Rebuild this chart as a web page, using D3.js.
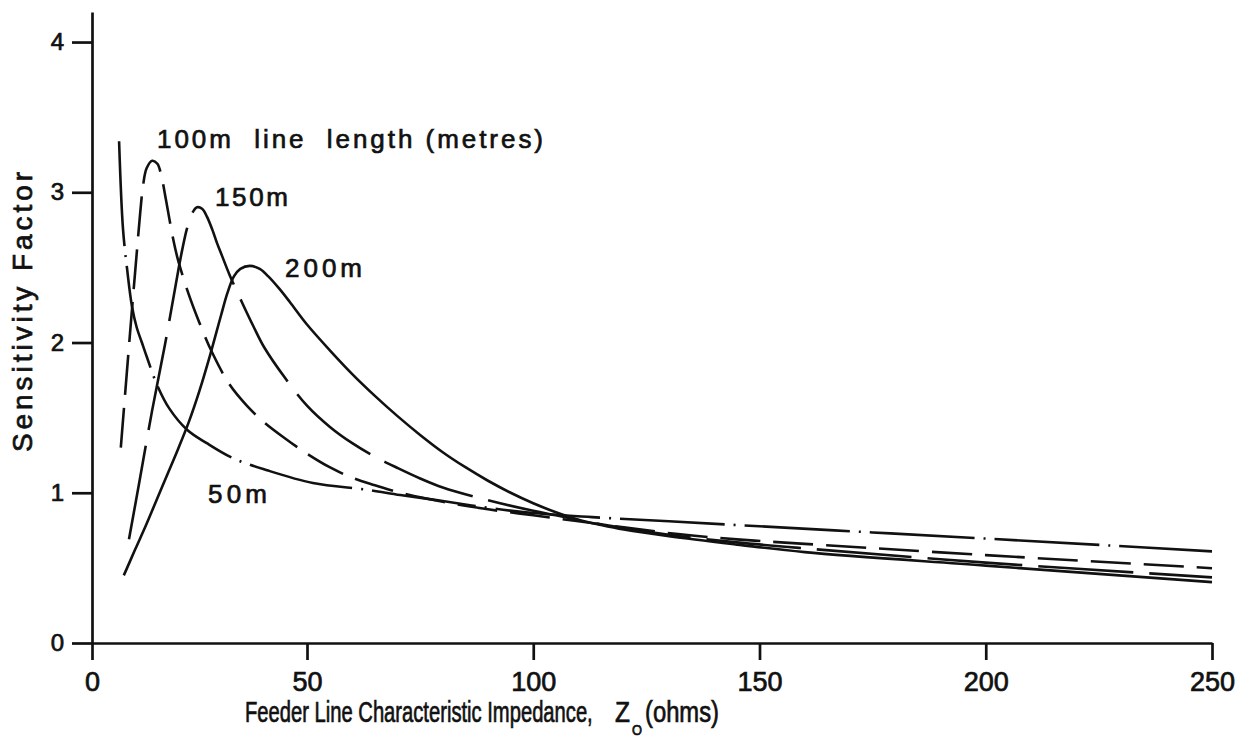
<!DOCTYPE html>
<html>
<head>
<meta charset="utf-8">
<script src="https://cdn.jsdelivr.net/npm/d3@7"></script>
<style>
  html, body { margin: 0; padding: 0; background: #fff; }
  svg { display: block; }
  text { font-family: "Liberation Sans", Arial, Helvetica, sans-serif; fill: #111; stroke: #111; stroke-width: 0.7px; }
</style>
</head>
<body>
<svg id="chart" width="1253" height="738"></svg>
<script>
// Sensitivity factor against feeder characteristic impedance (ohms), one curve per line length.
const xTicks = [0, 50, 100, 150, 200, 250];
const yTicks = [0, 1, 2, 3, 4];

// [impedance, sensitivity factor]
const len50 = [[6.3,3.34],[7.2,2.76],[8.2,2.48],[9.3,2.24],[10.4,2.10],[11.6,2.00],[12.8,1.90],[15.1,1.72],[18,1.56],[22.1,1.42],[26.7,1.33],[32.8,1.23],[40.7,1.15],[51.3,1.065],[63.3,1.02],[70.6,0.985],[80,0.945],[90,0.90],[100,0.865],[113,0.838],[130,0.81],[150,0.777],[175,0.736],[200,0.695],[225,0.653],[250,0.61]];
const len100 = [[6.7,1.30],[8.1,1.80],[9.3,2.22],[10.3,2.56],[11.2,2.86],[11.9,3.05],[12.7,3.16],[14.0,3.21],[15.2,3.19],[16.2,3.10],[17.2,2.95],[18.8,2.70],[20,2.55],[22.5,2.32],[25,2.13],[28,1.93],[32,1.72],[36,1.58],[40,1.47],[45,1.36],[50,1.26],[55,1.17],[60,1.10],[65,1.05],[70,1.005],[80,0.94],[90,0.89],[100,0.85],[110,0.81],[120,0.77],[132,0.725],[145,0.69],[160,0.66],[200,0.585],[250,0.498]];
const len150 = [[8.6,0.69],[11,1.07],[14,1.55],[17,1.99],[20,2.47],[21,2.62],[22.1,2.76],[23.3,2.86],[24.4,2.90],[25.6,2.89],[26.7,2.84],[28,2.75],[29.1,2.66],[30.2,2.58],[32,2.45],[35,2.26],[37.5,2.11],[40,1.97],[45,1.76],[50,1.58],[55,1.44],[60,1.33],[65,1.24],[70,1.165],[75,1.095],[80,1.035],[90,0.95],[100,0.88],[105,0.85],[115,0.79],[130,0.72],[145,0.67],[160,0.63],[200,0.535],[250,0.437]];
const len200 = [[7.4,0.45],[10,0.62],[12.5,0.78],[15,0.95],[17.5,1.12],[20,1.29],[22.5,1.47],[25,1.68],[27.5,1.92],[30,2.18],[31.5,2.33],[33,2.44],[34.5,2.49],[36.7,2.51],[39,2.49],[41,2.44],[43.5,2.36],[46,2.27],[50,2.12],[55,1.95],[60,1.79],[65,1.645],[70,1.51],[75,1.385],[80,1.27],[85,1.17],[90,1.08],[95,1.00],[100,0.93],[105,0.87],[110,0.82],[115,0.785],[120,0.755],[130,0.71],[145,0.655],[160,0.605],[200,0.515],[250,0.405]];

const svg = d3.select("#chart");

// The hand-ruled abscissa has a slightly short first interval.
const x = d3.scaleLinear().domain([0, 50, 250]).range([92, 307, 1212]);
const y = d3.scaleLinear().domain([0, 4.2]).range([643, 12]);

const axisW = 2.7;

// y axis
const gy = svg.append("g").attr("transform", `translate(${x(0)},0)`)
  .call(d3.axisLeft(y).tickValues(yTicks).tickSize(20).tickSizeOuter(0).tickPadding(8).tickFormat(d3.format("d")));
gy.select(".domain").attr("stroke", "#111").attr("stroke-width", axisW);
gy.selectAll(".tick line").attr("stroke", "#111").attr("stroke-width", axisW);
gy.selectAll(".tick text").attr("font-size", 24).attr("font-family", null);

// x axis
const gx = svg.append("g").attr("transform", `translate(0,${y(0)})`)
  .call(d3.axisBottom(x).tickValues(xTicks).tickSize(17).tickSizeOuter(0).tickPadding(12).tickFormat(d3.format("d")));
gx.select(".domain").attr("stroke", "#111").attr("stroke-width", axisW);
gx.selectAll(".tick line").attr("stroke", "#111").attr("stroke-width", axisW);
gx.selectAll(".tick text").attr("font-size", 27).attr("font-family", null);

// curves
const line = d3.line().x(d => x(d[0])).y(d => y(d[1])).curve(d3.curveCatmullRom.alpha(0.5));
const series = [
  { data: len50,  dash: "105,9,2,9" },
  { data: len100, dash: "40,13" },
  { data: len150, dash: "95,16" },
  { data: len200, dash: null }
];
svg.append("g").selectAll("path").data(series).join("path")
  .attr("d", d => line(d.data))
  .attr("fill", "none")
  .attr("stroke", "#111")
  .attr("stroke-width", 2.6)
  .attr("stroke-dasharray", d => d.dash);

// curve labels
function label(txt, px, py, size, len) {
  svg.append("text").attr("x", px).attr("y", py)
    .attr("font-size", size)
    .style("white-space", "pre")
    .attr("textLength", len).attr("lengthAdjust", "spacing")
    .text(txt);
}
label("100m  line  length (metres)", 157, 148, 26, 386);
label("150m", 215, 206, 26, 73);
label("200m", 285, 277, 26, 77);
label("50m", 208, 503, 26, 59);

// y axis title
svg.append("text")
  .attr("transform", "translate(32,312) rotate(-90)")
  .attr("text-anchor", "middle")
  .attr("font-size", 28)
  .attr("textLength", 280).attr("lengthAdjust", "spacing")
  .text("Sensitivity Factor");

// x axis title: condensed lettering, squeezed horizontally to its run
function condensed(txt, px, py, size, width) {
  const t = svg.append("text").attr("x", 0).attr("y", 0)
    .attr("font-size", size)
    .text(txt);
  const w = t.node().getComputedTextLength();
  t.attr("transform", `translate(${px},${py}) scale(${width / w},1)`);
}
condensed("Feeder Line Characteristic Impedance,", 245, 722, 29, 348);
condensed("Z", 615, 722, 29, 15);
condensed("O", 632, 735, 14, 10);
condensed("(ohms)", 645, 722, 29, 74);
</script>
</body>
</html>
